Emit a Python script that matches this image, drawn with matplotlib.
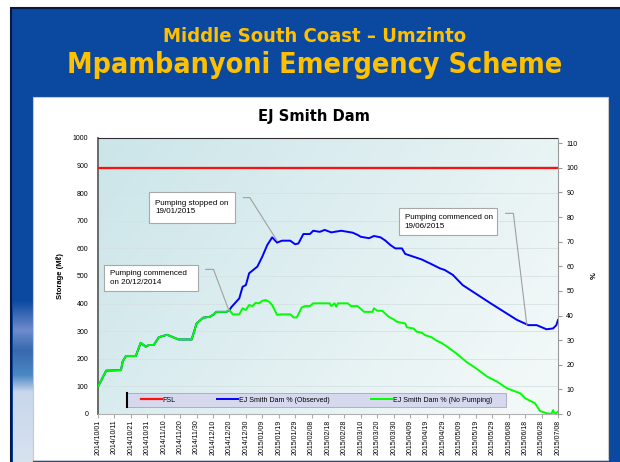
import matplotlib
matplotlib.use("Agg")
import matplotlib.pyplot as plt
import matplotlib.dates as mdates
from matplotlib.patches import Rectangle
from matplotlib.lines import Line2D
import numpy as np
import pandas as pd

plt.rcParams['font.family'] = ['Liberation Sans', 'DejaVu Sans']

start = pd.Timestamp("2014-10-01")
end = pd.Timestamp("2015-07-08")
fsl_ml = 892

# days since 2014/10/01 and storage (Ml)
obs_day = [0, 5, 14, 15, 17, 23, 26, 29, 31, 34, 37, 42, 45, 49, 57, 60, 64, 68, 70, 72, 78,
           80, 81, 86, 88, 90, 92, 97, 100, 103, 106, 109, 112, 117, 120, 122, 125, 129, 131,
           135, 138, 142, 144, 148, 155, 158, 160, 165, 168, 172, 175, 178, 181, 185, 187, 191,
           197, 203, 208, 211, 216, 222, 239, 255, 262, 267, 273, 277, 279, 280]
obs_ml = [99, 157, 159, 190, 210, 210, 258, 244, 250, 250, 278, 287, 280, 270, 270, 328, 349, 352, 359, 370, 370,
          375, 386, 419, 461, 467, 510, 534, 570, 612, 640, 621, 628, 628, 615, 618, 652, 652, 664,
          660, 667, 658, 660, 664, 657, 649, 642, 637, 645, 640, 628, 612, 600, 600, 580, 572,
          560, 543, 528, 522, 504, 467, 401, 341, 322, 322, 307, 310, 322, 341]

nopump_day = [0, 5, 14, 15, 17, 23, 26, 29, 31, 34, 37, 42, 45, 49, 57, 60, 64, 68, 70, 72, 78,
              80, 82, 86, 88, 90, 92, 94, 96, 98, 100, 102, 104, 106, 109, 111, 117, 119, 121, 124,
              126, 129, 131, 141, 142, 144, 145, 146, 152, 154, 158, 162, 167, 168, 170, 173, 177,
              180, 182, 187, 188, 192, 194, 197, 199, 203, 206, 209, 212, 218, 224, 230, 237, 243,
              249, 257, 260, 266, 269, 273, 276, 277, 278, 280]
nopump_ml = [99, 157, 159, 190, 210, 210, 258, 244, 250, 250, 278, 287, 280, 270, 270, 328, 349, 352, 359, 370, 370,
             377, 361, 361, 383, 377, 395, 391, 403, 401, 410, 413, 407, 395, 359, 361, 361, 350, 350, 386,
             391, 391, 401, 401, 391, 401, 389, 401, 401, 391, 391, 370, 370, 383, 374, 374, 352,
             343, 334, 328, 314, 310, 298, 295, 286, 278, 266, 258, 246, 220, 190, 166, 135, 117,
             93, 75, 57, 39, 11, 3, 0, 14, 0, 8]

notes = ["Pumping commenced\non 20/12/2014", "Pumping stopped on\n19/01/2015",
         "Pumping commenced on\n19/06/2015"]
note_day = [80, 109, 261]
note_ml = [370, 628, 324]

obs_dates = start + pd.to_timedelta(obs_day, unit="D")
nopump_dates = start + pd.to_timedelta(nopump_day, unit="D")
tick_dates = pd.date_range(start, end, freq="10D")

fig = plt.figure(figsize=(6.2, 4.62), dpi=100)

# slide background
fig.patches.append(Rectangle((10.5 / 620, -0.05), 1.1, 1.05 - 8 / 462, transform=fig.transFigure,
                             facecolor="#0b48a0", edgecolor="#0a1840", linewidth=1.5, zorder=-3))
fig.patches.append(Rectangle((33 / 620, 2 / 462), 575 / 620, 363 / 462, transform=fig.transFigure,
                             facecolor="white", edgecolor="#c8c8c8", linewidth=0.8, zorder=-2))

# water splash at the lower left of the slide
stops_y = [300, 330, 350, 375, 392, 462]
stops_c = np.array([[11, 72, 160], [110, 140, 205], [55, 105, 175], [75, 135, 195],
                    [200, 215, 235], [215, 226, 240]]) / 255
ys = np.linspace(300, 462, 160)
col = np.stack([np.interp(ys, stops_y, stops_c[:, k]) for k in range(3)], axis=1)
wax = fig.add_axes([13 / 620, 0, 20 / 620, 162 / 462], zorder=-2.5)
wax.imshow(np.repeat(col[:, None, :], 10, axis=1), aspect="auto")
wax.axis("off")

fig.text(0.508, 1 - 37 / 462, "Middle South Coast \u2013 Umzinto", color="#ffc000",
         fontsize=14.5, fontweight="bold", family="DejaVu Sans", stretch="condensed",
         ha="center", va="center")
fig.text(0.508, 1 - 65 / 462, "Mpambanyoni Emergency Scheme", color="#ffc000",
         fontsize=20.5, fontweight="bold", family="DejaVu Sans", stretch="condensed",
         ha="center", va="center")
fig.text(314 / 620, 1 - 117 / 462, "EJ Smith Dam", fontsize=10.6, fontweight="bold",
         family="DejaVu Sans", ha="center", va="center")

ax = fig.add_axes([98 / 620, 48 / 462, 460 / 620, 276 / 462])

# plot area gradient
gx, gy = np.meshgrid(np.linspace(0, 1, 200), np.linspace(1, 0, 100))
t = np.clip(0.75 * gx + 0.35 * (1 - gy), 0, 1)[..., None]
c0 = np.array([203, 229, 233]) / 255
c1 = np.array([242, 248, 248]) / 255
ax.imshow(c0 * (1 - t) + c1 * t, extent=[0, 1, 0, 1], transform=ax.transAxes,
          aspect="auto", zorder=0)

for v in range(100, 1000, 100):
    ax.axhline(v, color="#d5e2e3", linewidth=0.6, zorder=1)

ax.axhline(fsl_ml, color="#ff1010", linewidth=1.6, zorder=3, label="FSL")
ax.plot(obs_dates, obs_ml, color="#0000ff", linewidth=1.4, zorder=4,
        label="EJ Smith Dam % (Observed)")
ax.plot(nopump_dates, nopump_ml, color="#00ff00", linewidth=1.4, zorder=5,
        label="EJ Smith Dam % (No Pumping)")

ax.set_xlim(start, end)
ax.set_ylim(0, 1000)
ax.set_yticks(range(0, 1001, 100))
ax.set_xticks(tick_dates)
ax.xaxis.set_major_formatter(mdates.DateFormatter("%Y/%m/%d"))
ax.tick_params(axis="x", labelsize=5, rotation=90, length=3, color="#aaaaaa", pad=1)
ax.tick_params(axis="y", labelsize=5, length=0, pad=7)
ax.set_ylabel("Storage (M\u2113)", fontsize=5.5, fontweight="bold", labelpad=6)
ax.spines["top"].set_color("#303030")
ax.spines["left"].set_color("#606060")
ax.spines["left"].set_linewidth(1.3)
ax.spines["bottom"].set_color("#b0b0b0")
ax.spines["right"].set_visible(False)

ax2 = ax.twinx()
ax2.set_ylim(0, 1000 / fsl_ml * 100)
ax2.set_yticks(range(0, 111, 10))
ax2.tick_params(axis="y", labelsize=5, length=3, color="#999999", pad=3)
ax2.set_ylabel("%", fontsize=5.5, fontweight="bold", labelpad=9)
for s in ["top", "left", "bottom"]:
    ax2.spines[s].set_visible(False)
ax2.spines["right"].set_color("#999999")

# legend box
ax.add_patch(Rectangle((0.062, 0.024), 0.826, 0.051, transform=ax.transAxes,
                       facecolor="#d6d8ee", edgecolor="#9a9ab0", linewidth=0.5, zorder=6))
ax.add_line(Line2D([0.062, 0.062], [0.024, 0.075], transform=ax.transAxes,
                   color="black", linewidth=1.5, zorder=7))
leg = ax.legend(loc="center", bbox_to_anchor=(0.475, 0.05), ncol=3, frameon=False,
                fontsize=5, handlelength=3, handletextpad=0.1, columnspacing=6)
leg.set_zorder(8)

# annotation boxes (axes fraction) and leader lines
boxes = [(0.0137, 0.446, 0.204, 0.094), (0.111, 0.691, 0.187, 0.114), (0.654, 0.647, 0.214, 0.098)]
leads = [(0.234, 0.251, 0.524), (0.316, 0.330, 0.784), (0.886, 0.903, 0.727)]
to_axes = ax.transData + ax.transAxes.inverted()
for note, d, v, (bx, by, bw, bh), (l0, l1, ly) in zip(notes, note_day, note_ml, boxes, leads):
    ax.add_patch(Rectangle((bx, by), bw, bh, transform=ax.transAxes, facecolor="white",
                           edgecolor="#a8a8a8", linewidth=0.8, zorder=9))
    ax.text(bx + 0.013, by + bh / 2, note, transform=ax.transAxes, fontsize=5.8,
            va="center", ha="left", linespacing=1.3, zorder=10)
    tx, ty = to_axes.transform((mdates.date2num(start + pd.Timedelta(days=d)), v))
    ax.add_line(Line2D([l0, l1, tx], [ly, ly, ty], transform=ax.transAxes,
                       color="#a0a0a0", linewidth=0.8, zorder=9))

fig.savefig("out.png", dpi=100)
